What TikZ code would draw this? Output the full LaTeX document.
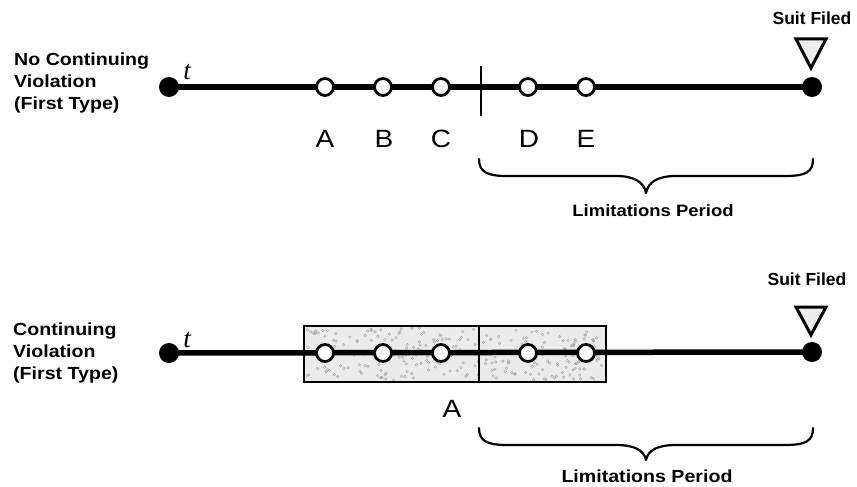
\documentclass[tikz,border=0pt]{standalone}
\usepackage{fontspec}
\setmainfont{Liberation Sans}
\newfontfamily\labf[FakeStretch=1.12]{Liberation Sans}
\newfontfamily\tserif{Liberation Serif}
\begin{document}
\begin{tikzpicture}[x=1pt,y=-1pt,
  tl/.style={line width=5.5pt},
  enddot/.style={circle,fill=black,inner sep=0pt,minimum size=20pt},
  evt/.style={circle,draw=black,fill=white,line width=2.8pt,inner sep=0pt,minimum size=17pt},
  sidelab/.style={anchor=west,align=left,font=\labf\bfseries\fontsize{17.5}{22}\selectfont,inner sep=0pt},
  letter/.style={font=\labf\fontsize{25}{28}\selectfont,inner sep=0pt},
  suit/.style={font=\bfseries\fontsize{17.5}{20}\selectfont,inner sep=0pt},
  limit/.style={font=\labf\bfseries\fontsize{16.5}{20}\selectfont,inner sep=0pt},
  tlab/.style={font=\tserif\itshape\fontsize{27}{28}\selectfont,inner sep=0pt},
  brace/.style={line width=2.2pt,line cap=round,line join=round},
  tri/.style={draw=black,line width=3pt,fill=gray!14,line join=miter},
  boxst/.style={draw=black,line width=2.2pt},
  speck/.style={draw=gray!70,line width=0.45pt}]
\useasboundingbox (0,0) rectangle (857,487);

% ---------------- top: no continuing violation ----------------
\node[sidelab] (lab1) at (14,83) {No Continuing\\Violation\\(First Type)};
\node[enddot] (l1) at (169,87) {};
\node[enddot] (r1) at (812,87) {};
\draw[tl] (l1.center) -- (r1.center);
\coordinate (tk1) at (481,66);
\coordinate (tk2) at (481,116);
\draw[line width=2.2pt] (tk1) -- (tk2);
\node[evt] (a1) at (325,87) {};
\node[evt] (b1) at (383,87) {};
\node[evt] (c1) at (441,87) {};
\node[evt] (d1) at (528,87) {};
\node[evt] (e1) at (586,87) {};
\node[tlab] (t1) at (187,72) {t};
\node[letter] (la) at (325,139) {A};
\node[letter] (lb) at (384,139) {B};
\node[letter] (lc) at (441,139) {C};
\node[letter] (ld) at (529,139) {D};
\node[letter] (le) at (586,139) {E};
\node[suit] (s1) at (812,18) {Suit Filed};
\coordinate (tr1a) at (796,39);
\coordinate (tr1b) at (826,39);
\coordinate (tr1c) at (811,68);
\draw[tri] (tr1a) -- (tr1b) -- (tr1c) -- cycle;
\coordinate (br1l) at (479,159);
\coordinate (br1r) at (813,159);
\coordinate (br1t) at (646,193);
\draw[brace] (br1l) .. controls (479,172) and (487,176) .. (507,176)
  -- (616,176) .. controls (634,176) and (644,182) .. (br1t)
  .. controls (648,182) and (658,176) .. (676,176)
  -- (785,176) .. controls (806,176) and (813,172) .. (br1r);
\node[limit] (p1) at (653,211) {Limitations Period};

% ---------------- bottom: continuing violation ----------------
\node[sidelab] (lab2) at (13,353) {Continuing\\Violation\\(First Type)};
\fill[gray!16] (304,326) rectangle (606,382);
\pgfmathsetseed{4711}
\foreach \i in {1,...,260}{
  \pgfmathsetmacro\xx{306+298*rnd}
  \pgfmathsetmacro\yy{328+52*rnd}
  \draw[speck] (\xx,\yy) circle (1.3);
}
\draw[boxst] (304,326) rectangle (479,382);
\draw[boxst] (479,326) rectangle (606,382);
\node[enddot] (l2) at (169,353) {};
\node[enddot] (r2) at (812,352) {};
\draw[tl] (l2.center) -- (r2.center);
\node[evt] (a2) at (325,353) {};
\node[evt] (b2) at (383,353) {};
\node[evt] (c2) at (441,353) {};
\node[evt] (d2) at (528,353) {};
\node[evt] (e2) at (586,353) {};
\node[tlab] (t2) at (187,340) {t};
\node[letter] (la2) at (452,409) {A};
\node[suit] (s2) at (807,279) {Suit Filed};
\coordinate (tr2a) at (796,307);
\coordinate (tr2b) at (826,307);
\coordinate (tr2c) at (811,335);
\draw[tri] (tr2a) -- (tr2b) -- (tr2c) -- cycle;
\coordinate (br2l) at (479,428);
\coordinate (br2r) at (813,428);
\coordinate (br2t) at (646,460);
\draw[brace] (br2l) .. controls (479,441) and (487,445) .. (507,445)
  -- (616,445) .. controls (634,445) and (644,450) .. (br2t)
  .. controls (648,450) and (658,445) .. (676,445)
  -- (785,445) .. controls (806,445) and (813,441) .. (br2r);
\node[limit,font=\labf\bfseries\fontsize{17.5}{20}\selectfont] (p2) at (647,476) {Limitations Period};
\end{tikzpicture}
\end{document}
